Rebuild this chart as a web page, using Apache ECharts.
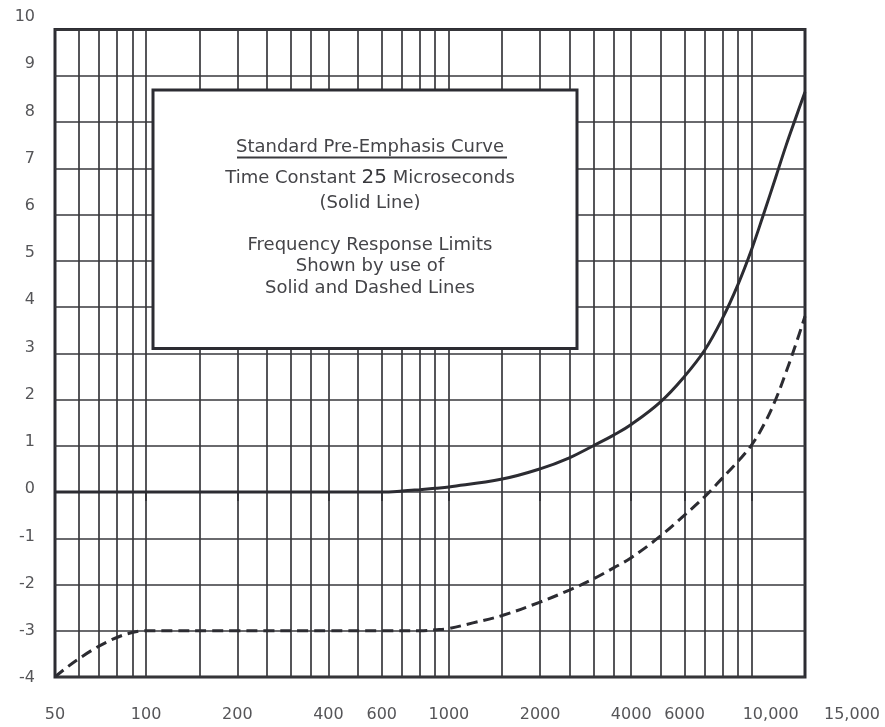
<!DOCTYPE html>
<html>
<head>
<meta charset="utf-8">
<script src="https://cdn.jsdelivr.net/npm/echarts@6/dist/echarts.min.js"></script>
<style>
  html, body { margin: 0; padding: 0; background: #ffffff; }
  #chart { width: 885px; height: 727px; }
</style>
</head>
<body>
<div id="chart"></div>
<script>
// Pre-emphasis curve: frequency (Hz) against relative response (dB)
const solidFreq = [50, 100, 200, 400, 600, 700, 800, 900, 1000, 1500, 2000, 2500, 3000, 3500, 4000, 5000, 6000, 7000, 8000, 9000, 10000, 11000, 12000, 13000, 14000, 15000];
const solidDb   = [0, 0, 0, 0, 0, 0.02, 0.05, 0.08, 0.11, 0.28, 0.5, 0.74, 1.0, 1.23, 1.46, 1.95, 2.5, 3.07, 3.75, 4.48, 5.25, 6.05, 6.8, 7.5, 8.1, 8.65];

// Lower tolerance limit (dashed)
const dashedFreq = [50, 100, 200, 400, 600, 800, 900, 1000, 1200, 1500, 2000, 2500, 3000, 3500, 4000, 5000, 6000, 7000, 8000, 9000, 10000, 11000, 12000, 13000, 14000, 15000];
const dashedDb   = [-4, -3, -3, -3, -3, -3, -2.98, -2.95, -2.83, -2.67, -2.38, -2.12, -1.88, -1.64, -1.42, -0.95, -0.5, -0.1, 0.3, 0.66, 1.02, 1.47, 2.0, 2.6, 3.2, 3.8];

// Log-paper rulings and axis marks
const gridFreq  = [60, 70, 80, 90, 100, 150, 200, 250, 300, 350, 400, 500, 600, 700, 800, 900, 1000, 1500, 2000, 2500, 3000, 3500, 4000, 5000, 6000, 7000, 8000, 9000, 10000];
const tickFreq  = [100, 200, 400, 600, 1000, 2000, 4000, 6000, 10000];
const labelFreq = [50, 100, 200, 400, 600, 1000, 2000, 4000, 6000, 10000, 15000];
const freqMin = 50, freqMax = 15000;
const dbMin = -4, dbMax = 10, dbStep = 1;

// Legend box text
const boxTitle = 'Standard Pre-Emphasis Curve';
const boxLines = ['Time Constant {b|25} Microseconds', '(Solid Line)'];
const boxNote = ['Frequency Response Limits', 'Shown by use of', 'Solid and Dashed Lines'];

const INK = '#2c2c32';
const RULE = '#38383c';
const TEXT = '#555558';
const BOXTEXT = '#444448';
const FONT = 'DejaVu Sans';

function pairs(xs, ys) { return xs.map((x, i) => [x, ys[i]]); }

function freqLabel(v) {
  const s = v >= 10000 ? v.toLocaleString('en-US') : String(v);
  if (v === 10000) return '{wide|' + s + '}';
  if (v === 15000) return '{far|' + s + '}';
  return s;
}

function boxText(text, y, extra) {
  return {
    type: 'text', z: 51, x: 370, y: y,
    style: Object.assign({
      text: text, align: 'center', verticalAlign: 'middle',
      fontSize: 18, fontFamily: FONT, fill: BOXTEXT
    }, extra || {})
  };
}

const chart = echarts.init(document.getElementById('chart'), null, { renderer: 'canvas' });

chart.setOption({
  animation: false,
  backgroundColor: '#ffffff',
  grid: [
    { left: 55, right: 80, top: 29.5, bottom: 50, show: true, borderColor: INK, borderWidth: 3, backgroundColor: 'transparent' },
    { left: 55, right: 80, top: 17, bottom: 49, show: false }
  ],
  xAxis: [
    {
      type: 'log', logBase: 10, min: freqMin, max: freqMax, gridIndex: 0,
      axisLine: { show: false },
      splitLine: { show: false },
      minorSplitLine: { show: false },
      axisTick: { show: true, customValues: tickFreq, length: 9, lineStyle: { color: INK, width: 2 } },
      axisLabel: {
        show: true, customValues: labelFreq, margin: 30,
        color: TEXT, fontSize: 16, fontFamily: FONT,
        formatter: freqLabel,
        rich: {
          wide: { color: TEXT, fontSize: 16, fontFamily: FONT, padding: [0, 0, 0, 38] },
          far: { color: TEXT, fontSize: 16, fontFamily: FONT, padding: [0, 0, 0, 94] }
        }
      }
    },
    { type: 'value', gridIndex: 1, show: false, min: 0, max: 1 }
  ],
  yAxis: [
    {
      type: 'value', min: dbMin, max: dbMax, interval: dbStep, gridIndex: 0,
      axisLine: { show: false }, axisTick: { show: false }, axisLabel: { show: false },
      splitLine: { show: true, lineStyle: { color: RULE, width: 1.7 } }
    },
    {
      type: 'value', min: dbMin, max: dbMax, interval: dbStep, gridIndex: 1,
      axisLine: { show: false }, axisTick: { show: false }, splitLine: { show: false },
      axisLabel: { show: true, margin: 20, color: TEXT, fontSize: 16, fontFamily: FONT }
    }
  ],
  series: [
    {
      name: 'rulings', type: 'line', xAxisIndex: 0, yAxisIndex: 0, data: [], z: 1, silent: true,
      markLine: {
        silent: true, symbol: ['none', 'none'], label: { show: false },
        lineStyle: { color: RULE, width: 1.7, type: 'solid' },
        emphasis: { disabled: true },
        data: gridFreq.map(f => ({ xAxis: f }))
      }
    },
    {
      name: 'Pre-emphasis 25 µs', type: 'line', xAxisIndex: 0, yAxisIndex: 0, z: 5,
      data: pairs(solidFreq, solidDb), showSymbol: false, smooth: 0.4,
      lineStyle: { color: INK, width: 3 }, silent: true
    },
    {
      name: 'Lower limit', type: 'line', xAxisIndex: 0, yAxisIndex: 0, z: 5,
      data: pairs(dashedFreq, dashedDb), showSymbol: false, smooth: 0.4,
      lineStyle: { color: INK, width: 3, type: [11, 6], cap: 'butt' }, silent: true
    }
  ],
  graphic: [
    {
      type: 'rect', z: 50,
      shape: { x: 153, y: 90, width: 424, height: 258.5 },
      style: { fill: '#ffffff', stroke: INK, lineWidth: 3 }
    },
    boxText(boxTitle, 147),
    {
      type: 'line', z: 51,
      shape: { x1: 237, y1: 157.5, x2: 507, y2: 157.5 },
      style: { stroke: '#3a3a3e', lineWidth: 2 }
    },
    boxText(boxLines[0], 178, { rich: { b: { fontSize: 20, fontFamily: FONT, fill: '#38383c' } } }),
    boxText(boxLines[1], 203),
    boxText(boxNote[0], 245),
    boxText(boxNote[1], 266),
    boxText(boxNote[2], 288)
  ]
});
</script>
</body>
</html>
